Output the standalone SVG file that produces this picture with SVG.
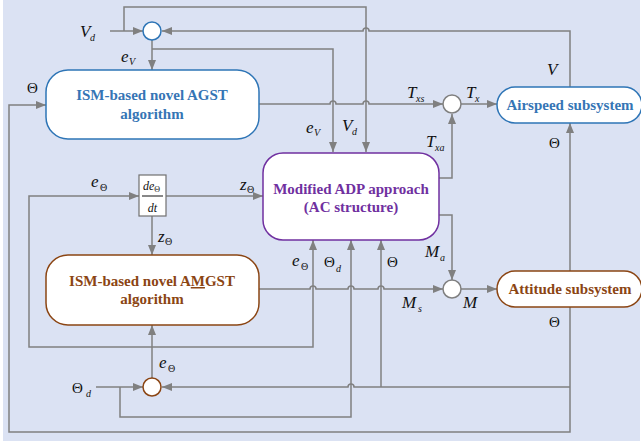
<svg xmlns="http://www.w3.org/2000/svg" width="641" height="441" viewBox="0 0 641 441">
<style>
.c{fill:none;stroke:#808080;stroke-width:1.5}
text{font-family:"Liberation Serif","Times New Roman",Times,Tinos,"DejaVu Serif",serif}
.lb{font-style:italic;font-size:17px;fill:#111}
.sb{font-style:italic;font-size:10px;fill:#111}
.th{font-size:15px;fill:#111}
.ths{font-size:10px;fill:#111}
.bt{font-weight:bold;font-size:15px;text-anchor:middle}
</style>
<defs>
<marker id="a" markerUnits="userSpaceOnUse" markerWidth="10" markerHeight="8" refX="10" refY="4" orient="auto">
<path d="M0,0 L10,4 L0,8 z" fill="#808080"/>
</marker>
</defs>
<rect x="3" y="0" width="637" height="441" fill="#dbe2f3"/>
<g id="connectors">
<path class="c" d="M110,31 H143" marker-end="url(#a)"/>
<path class="c" d="M124,31 V7 H366 V152" marker-end="url(#a)"/>
<path class="c" d="M570,87 V31 H369 A3,3 0 0 0 363,31 H162" marker-end="url(#a)"/>
<path class="c" d="M152,40 V70" marker-end="url(#a)"/>
<path class="c" d="M152,49 H333 V152" marker-end="url(#a)"/>
<path class="c" d="M259,104 H330 A3,3 0 0 1 336,104 H363 A3,3 0 0 1 369,104 H443" marker-end="url(#a)"/>
<path class="c" d="M461,104 H497" marker-end="url(#a)"/>
<path class="c" d="M439,178 H452 V114" marker-end="url(#a)"/>
<path class="c" d="M439,215 H452 V280" marker-end="url(#a)"/>
<path class="c" d="M461,289 H497" marker-end="url(#a)"/>
<path class="c" d="M259,289 H310 A3,3 0 0 1 316,289 H348 A3,3 0 0 1 354,289 H378 A3,3 0 0 1 384,289 H443" marker-end="url(#a)"/>
<path class="c" d="M570,271 V123" marker-end="url(#a)"/>
<path class="c" d="M570,307 V432 H9 V105 H46" marker-end="url(#a)"/>
<path class="c" d="M570,387 H354 A3,3 0 0 0 348,387 H162" marker-end="url(#a)"/>
<path class="c" d="M381,387 V240" marker-end="url(#a)"/>
<path class="c" d="M96,387 H143" marker-end="url(#a)"/>
<path class="c" d="M120,387 V417 H351 V240" marker-end="url(#a)"/>
<path class="c" d="M152,378 V325" marker-end="url(#a)"/>
<path class="c" d="M152,347 H29 V196 H139" marker-end="url(#a)"/>
<path class="c" d="M152,347 H313 V240" marker-end="url(#a)"/>
<path class="c" d="M166,196 H263" marker-end="url(#a)"/>
<path class="c" d="M152,216 V255" marker-end="url(#a)"/>
</g>
<g id="sum_v"><circle cx="152" cy="31" r="9" fill="#fff" stroke="#2e75b6" stroke-width="1.5"/></g>
<g id="sum_t"><circle cx="452" cy="104" r="9" fill="#fff" stroke="#808080" stroke-width="1.5"/></g>
<g id="sum_m"><circle cx="452" cy="289" r="9" fill="#fff" stroke="#808080" stroke-width="1.5"/></g>
<g id="sum_theta"><circle cx="152" cy="387" r="9" fill="#fff" stroke="#8b4513" stroke-width="1.5"/></g>
<g id="agst">
<rect x="46" y="70" width="213" height="69" rx="22" fill="#fff" stroke="#2e75b6" stroke-width="1.5"/>
<text class="bt" x="152" y="100" fill="#3575b5">ISM-based novel AGST</text>
<text class="bt" x="152" y="119" fill="#3575b5">algorithm</text>
</g>
<g id="adp">
<rect x="263" y="153" width="176" height="87" rx="20" fill="#fff" stroke="#7030a0" stroke-width="1.5"/>
<text class="bt" x="351" y="194" fill="#7030a0">Modified ADP approach</text>
<text class="bt" x="351" y="212" fill="#7030a0">(AC structure)</text>
</g>
<g id="amgst">
<rect x="46" y="255" width="213" height="70" rx="22" fill="#fff" stroke="#8b4513" stroke-width="1.5"/>
<text class="bt" x="152" y="286" fill="#8b4513">ISM-based novel A<tspan text-decoration="underline">M</tspan>GST</text>
<text class="bt" x="152" y="304" fill="#8b4513">algorithm</text>
</g>
<g id="airspeed">
<rect x="497" y="87" width="145" height="36" rx="18" fill="#fff" stroke="#2e75b6" stroke-width="1.5"/>
<text class="bt" x="570" y="110" fill="#3575b5">Airspeed subsystem</text>
</g>
<g id="attitude">
<rect x="497" y="271" width="145" height="36" rx="18" fill="#fff" stroke="#8b4513" stroke-width="1.5"/>
<text class="bt" x="570" y="294" fill="#8b4513">Attitude subsystem</text>
</g>
<g id="deriv">
<rect x="139" y="175" width="27" height="41" fill="#fff" stroke="#707070" stroke-width="1.2"/>
<text x="143" y="190" font-style="italic" font-size="12" fill="#111">de<tspan font-size="8" dy="2" font-style="normal">Θ</tspan></text>
<line x1="142" y1="196" x2="163" y2="196" stroke="#111" stroke-width="1"/>
<text x="152.5" y="212" font-style="italic" font-size="12" fill="#111" text-anchor="middle">dt</text>
</g>
<g id="labels">
<text class="lb" x="80" y="37">V</text><text class="sb" x="90" y="41">d</text>
<text class="lb" x="121" y="62">e</text><text class="sb" x="129" y="65">V</text>
<text class="th" x="27" y="93">Θ</text>
<text class="lb" x="306" y="133">e</text><text class="sb" x="314" y="136">V</text>
<text class="lb" x="342" y="131">V</text><text class="sb" x="352" y="135">d</text>
<text class="lb" x="407" y="98">T</text><text class="sb" x="416" y="102">xs</text>
<text class="lb" x="466" y="98">T</text><text class="sb" x="475" y="102">x</text>
<text class="lb" x="547" y="75">V</text>
<text class="lb" x="426" y="147">T</text><text class="sb" x="435" y="151">xa</text>
<text class="th" x="549" y="148">Θ</text>
<text class="lb" x="91" y="187">e</text><text class="ths" x="100" y="191">Θ</text>
<text class="lb" x="240" y="190">z</text><text class="ths" x="247" y="193">Θ</text>
<text class="lb" x="158" y="242">z</text><text class="ths" x="165" y="245">Θ</text>
<text class="lb" x="292" y="266">e</text><text class="ths" x="301" y="270">Θ</text>
<text class="th" x="324" y="267">Θ</text><text class="sb" x="336" y="272">d</text>
<text class="th" x="387" y="267">Θ</text>
<text class="lb" x="425" y="257">M</text><text class="sb" x="440" y="261">a</text>
<text class="lb" x="402" y="308">M</text><text class="sb" x="418" y="312">s</text>
<text class="lb" x="463" y="308">M</text>
<text class="th" x="549" y="327">Θ</text>
<text class="lb" x="159" y="368">e</text><text class="ths" x="168" y="372">Θ</text>
<text class="th" x="72" y="393">Θ</text><text class="sb" x="86" y="397">d</text>
</g>
</svg>
